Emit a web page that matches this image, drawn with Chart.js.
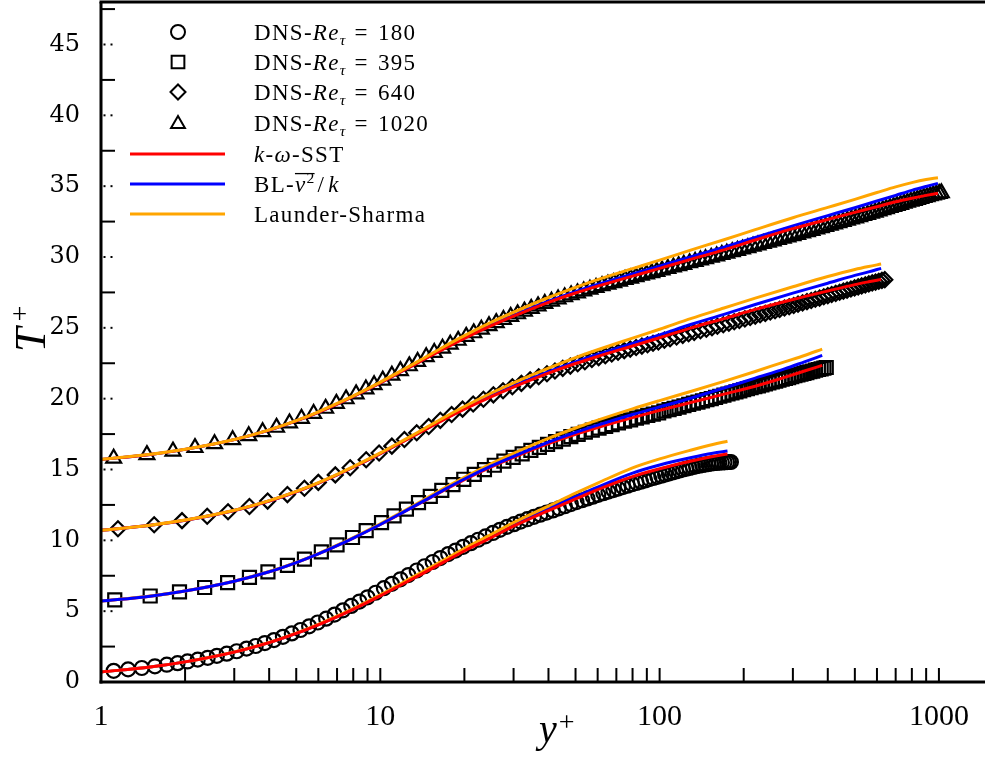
<!DOCTYPE html>
<html>
<head>
<meta charset="utf-8">
<script src="https://cdn.jsdelivr.net/npm/chart.js@4.4.1/dist/chart.umd.min.js"></script>
<style>
  html, body { margin: 0; padding: 0; background: #fff; overflow: hidden; }
  #wrap { width: 985px; height: 757px; }
</style>
</head>
<body>
<div id="wrap"><canvas id="chart" width="985" height="757"></canvas></div>
<script>
// ---- axis ticks ----
const xLabelTicks = [1, 10, 100, 1000];
const yTicks = [0, 5, 10, 15, 20, 25, 30, 35, 40, 45];
const yLongTicks = [2.5, 7.5, 12.5, 17.5, 22.5, 27.5, 32.5, 37.5, 42.5, 47.5];

// ---- legend text ----
const dnsLabels = ['180', '395', '640', '1020'];
const modelLabels = ['k-ω-SST', 'BL-v2/k', 'Launder-Sharma'];

// ---- DNS, Re_tau = 180 (no shift) ----
const re180Yp = [1.11,1.25,1.4,1.56,1.72,1.88,2.04,2.22,2.41,2.6,
  2.82,3.06,3.32,3.58,3.86,4.16,4.48,4.82,5.18,5.56,
  5.97,6.4,6.86,7.35,7.87,8.42,9.0,9.62,10.3,11.0,
  11.8,12.6,13.5,14.4,15.4,16.4,17.5,18.6,19.8,21.1,
  22.4,23.8,25.3,26.8,28.4,30.1,31.8,33.6,35.5,37.4,
  39.4,41.5,43.6,45.8,48.1,50.4,52.8,55.2,57.7,60.3,
  62.9,65.6,68.3,71.1,73.9,76.8,79.7,82.7,85.7,88.8,
  91.9,95.0,98.2,101.4,104.6,107.9,111.2,114.5,117.9,121.3,
  124.7,128.1,131.6,135.1,138.6,142.1,145.6,149.2,152.7,156.3,
  159.9,163.5,167.1,170.7,174.3,177.2,180];
const re180T = [0.79,0.89,0.99,1.11,1.22,1.33,1.45,1.58,1.71,1.85,
  2.0,2.17,2.36,2.54,2.75,2.96,3.19,3.43,3.67,3.93,
  4.2,4.47,4.76,5.06,5.37,5.68,5.98,6.3,6.62,6.93,
  7.25,7.55,7.87,8.17,8.47,8.75,9.03,9.28,9.54,9.8,
  10.04,10.28,10.52,10.74,10.95,11.14,11.32,11.49,11.66,11.81,
  11.96,12.11,12.26,12.41,12.56,12.7,12.83,12.96,13.08,13.21,
  13.33,13.44,13.55,13.65,13.76,13.86,13.96,14.05,14.14,14.23,
  14.32,14.4,14.48,14.56,14.64,14.71,14.79,14.86,14.93,15.0,
  15.06,15.11,15.17,15.22,15.27,15.31,15.35,15.38,15.42,15.44,
  15.46,15.48,15.5,15.51,15.52,15.53,15.53];

// ---- DNS, Re_tau = 395 (shifted +5) ----
const re395Yp = [1.12,1.5,1.91,2.35,2.84,3.4,3.96,4.65,5.35,6.15,
  7.0,7.95,8.9,10.1,11.2,12.4,13.7,15.1,16.6,18.2,
  19.9,21.7,23.6,25.6,27.7,29.9,32.2,34.6,37.1,39.7,
  42.4,45.2,48.1,51.1,54.2,57.4,60.7,64.1,67.6,71.2,
  74.9,78.7,82.6,86.6,90.7,94.9,99.2,103.6,108.1,112.7,
  117.4,122.2,127.1,132.1,137.2,142.4,147.7,153.1,158.6,164.2,
  169.9,175.7,181.6,187.6,193.7,199.9,206.2,212.6,219.1,225.7,
  232.4,239.2,246.1,253.1,260.2,267.4,274.7,282.1,289.6,297.2,
  304.9,312.7,320.6,328.6,336.7,344.9,353.2,361.6,370.1,378.7,
  387.4,395];
const re395T = [5.8,6.07,6.36,6.67,7.01,7.39,7.77,8.23,8.68,9.18,
  9.68,10.2,10.69,11.25,11.73,12.2,12.66,13.1,13.52,13.93,
  14.31,14.66,14.99,15.3,15.59,15.86,16.1,16.35,16.56,16.78,
  16.97,17.15,17.32,17.48,17.63,17.78,17.92,18.05,18.17,18.29,
  18.41,18.51,18.62,18.72,18.82,18.91,19.0,19.13,19.23,19.32,
  19.41,19.5,19.59,19.68,19.76,19.85,19.93,20.01,20.09,20.17,
  20.25,20.33,20.4,20.48,20.55,20.63,20.7,20.77,20.84,20.91,
  20.98,21.05,21.11,21.18,21.24,21.31,21.37,21.43,21.49,21.55,
  21.62,21.67,21.73,21.79,21.84,21.9,21.95,22.01,22.06,22.11,
  22.16,22.2];

// ---- DNS, Re_tau = 640 (shifted +10) ----
const re640Yp = [1.15,1.55,1.95,2.4,2.85,3.4,3.95,4.65,5.35,6.0,
  6.9,7.8,8.9,9.9,11,12.2,13.5,14.9,16.4,18.0,
  19.7,21.5,23.4,25.4,27.5,29.7,32.0,34.4,36.9,39.5,
  42.2,45.0,47.9,50.9,54.0,57.2,60.5,63.9,67.4,71.0,
  74.7,78.5,82.4,86.4,90.5,94.7,99.0,104,109,115,
  121,127,133,140,147,154,161,169,177,185,
  193,202,211,220,229,239,249,259,269,280,
  291,302,313,325,337,349,361,374,387,400,
  413,427,441,455,469,484,499,514,529,545,
  561,577,593,609,625,640];
const re640T = [10.82,11.1,11.39,11.7,12.02,12.39,12.77,13.23,13.68,14.09,
  14.62,15.12,15.69,16.16,16.65,17.12,17.59,18.04,18.47,18.88,
  19.26,19.62,19.96,20.27,20.56,20.84,21.08,21.33,21.55,21.76,
  21.95,22.14,22.3,22.46,22.61,22.76,22.9,23.03,23.15,23.28,
  23.39,23.5,23.61,23.71,23.81,23.91,24.0,24.13,24.23,24.35,
  24.47,24.58,24.68,24.79,24.9,25.01,25.11,25.22,25.33,25.43,
  25.52,25.63,25.73,25.83,25.92,26.02,26.12,26.21,26.3,26.4,
  26.49,26.58,26.67,26.76,26.85,26.93,27.02,27.1,27.19,27.27,
  27.35,27.43,27.51,27.59,27.66,27.74,27.82,27.89,27.96,28.03,
  28.1,28.17,28.23,28.29,28.35,28.4];

// ---- DNS, Re_tau = 1020 (shifted +15) ----
const re1020Yp = [1.11,1.46,1.81,2.17,2.55,2.96,3.38,3.79,4.25,4.73,
  5.22,5.77,6.37,6.96,7.54,8.19,8.88,9.5,10.2,11.0,
  11.8,12.7,13.6,14.6,15.6,16.7,17.8,19.0,20.3,21.6,
  23.0,24.5,26.0,27.6,29.3,31.0,32.8,34.7,36.7,38.8,
  41.0,43.3,45.7,48.2,50.8,53.5,56.3,59.2,62.2,65.3,
  68.5,71.8,75.2,78.7,82.3,86.0,89.8,93.7,97.7,102,
  107,112,117,122,128,134,140,146,153,160,
  167,174,182,190,198,207,216,225,235,245,
  255,266,277,288,300,312,325,338,351,365,
  379,393,408,423,438,454,470,486,503,520,
  537,555,573,591,610,629,648,668,688,708,
  729,750,771,793,815,837,860,883,906,930,
  954,978,1002,1020];
const re1020T = [15.79,16.04,16.29,16.54,16.81,17.09,17.38,17.66,17.97,18.28,
  18.6,18.95,19.31,19.66,19.98,20.33,20.68,20.98,21.3,21.65,
  21.97,22.31,22.62,22.95,23.25,23.55,23.83,24.11,24.39,24.64,
  24.89,25.14,25.36,25.58,25.79,25.98,26.17,26.36,26.54,26.71,
  26.87,27.03,27.18,27.32,27.46,27.59,27.72,27.84,27.96,28.07,
  28.18,28.29,28.4,28.5,28.6,28.7,28.79,28.88,28.97,29.07,
  29.18,29.28,29.38,29.47,29.58,29.68,29.78,29.87,29.97,30.07,
  30.17,30.26,30.36,30.46,30.55,30.65,30.75,30.84,30.94,31.03,
  31.13,31.22,31.32,31.41,31.5,31.59,31.69,31.78,31.87,31.97,
  32.06,32.14,32.24,32.32,32.41,32.5,32.58,32.67,32.75,32.84,
  32.92,33.0,33.08,33.16,33.24,33.32,33.4,33.48,33.55,33.63,
  33.7,33.78,33.85,33.92,33.99,34.06,34.12,34.19,34.25,34.31,
  34.37,34.43,34.48,34.52];

// ---- RANS models ----
const m180Yp = [1,1.5,2,3,4,5,6,7,8,10,12,14,17,20,25,30,40,50,60,80,100,130,155,175];
const sst180 = [0.71,1.06,1.42,2.11,2.78,3.43,4.04,4.6,5.13,6.08,6.9,7.6,8.5,9.25,10.2,11.0,12.1,12.92,13.58,14.5,15.05,15.6,15.92,16.1];
const v2k180 = [0.71,1.06,1.42,2.11,2.78,3.43,4.05,4.62,5.15,6.12,6.95,7.66,8.56,9.32,10.28,11.1,12.22,13.08,13.76,14.75,15.32,15.85,16.15,16.3];
const ls180  = [0.71,1.06,1.42,2.12,2.79,3.45,4.07,4.65,5.18,6.15,7.0,7.72,8.64,9.42,10.42,11.25,12.42,13.33,14.04,15.12,15.75,16.38,16.77,17.0];

const m395Yp = [1,1.5,2,3,4,5,6,7,8,10,12,14,17,20,25,30,40,50,60,80,100,130,170,220,280,330,382];
const sst395 = [5.71,6.06,6.42,7.11,7.78,8.43,9.04,9.62,10.16,11.12,11.95,12.66,13.56,14.28,15.18,15.85,16.82,17.48,17.96,18.66,19.17,19.74,20.32,20.88,21.5,21.95,22.35];
const v2k395 = [5.71,6.06,6.42,7.11,7.78,8.43,9.04,9.62,10.16,11.12,11.96,12.68,13.6,14.33,15.25,15.93,16.93,17.62,18.13,18.88,19.42,20.05,20.75,21.45,22.1,22.6,23.05];
const ls395  = [5.71,6.07,6.43,7.12,7.8,8.45,9.07,9.66,10.2,11.17,12.02,12.76,13.7,14.45,15.42,16.14,17.2,17.93,18.48,19.28,19.86,20.52,21.22,21.92,22.6,23.05,23.5];

const m640Yp = [1,1.5,2,3,4,5,6,7,8,10,12,14,17,20,25,30,40,50,60,80,100,130,170,220,300,400,500,560,621];
const sst640 = [10.71,11.06,11.42,12.11,12.78,13.43,14.04,14.62,15.16,16.12,16.95,17.66,18.55,19.26,20.15,20.82,21.8,22.48,22.98,23.72,24.3,25.0,25.65,26.3,27.0,27.6,28.05,28.25,28.42];
const v2k640 = [10.71,11.06,11.42,12.11,12.78,13.43,14.04,14.62,15.16,16.12,16.96,17.68,18.58,19.3,20.21,20.9,21.9,22.6,23.12,23.9,24.5,25.25,25.95,26.65,27.45,28.15,28.7,28.95,29.2];
const ls640  = [10.71,11.07,11.43,12.12,12.8,13.45,14.07,14.66,15.2,16.17,17.02,17.76,18.7,19.45,20.4,21.12,22.16,22.9,23.45,24.27,24.9,25.67,26.4,27.1,27.9,28.62,29.12,29.33,29.5];

const m1020Yp = [1,1.5,2,3,4,5,6,7,8,10,12,14,17,20,25,30,40,50,60,80,100,130,170,220,300,400,500,600,700,800,900,992];
const sst1020 = [15.71,16.06,16.42,17.11,17.78,18.43,19.04,19.62,20.16,21.12,21.95,22.66,23.55,24.26,25.15,25.82,26.8,27.46,27.94,28.65,29.2,29.85,30.5,31.2,32.0,32.65,33.15,33.55,33.9,34.15,34.35,34.5];
const v2k1020 = [15.71,16.06,16.42,17.11,17.78,18.43,19.04,19.62,20.16,21.12,21.96,22.68,23.58,24.3,25.2,25.88,26.88,27.56,28.06,28.8,29.36,30.02,30.7,31.38,32.2,32.92,33.48,33.95,34.35,34.7,34.98,35.2];
const ls1020  = [15.71,16.07,16.43,17.12,17.8,18.45,19.07,19.66,20.2,21.17,22.02,22.76,23.7,24.45,25.4,26.1,27.14,27.86,28.4,29.18,29.78,30.5,31.22,31.93,32.77,33.5,34.07,34.55,34.95,35.25,35.47,35.6];

const RED = '#ff0000', BLUE = '#0000ff', ORANGE = '#ffa500';
const SERIF = '"Liberation Serif", "Times New Roman", serif';
const WIDE_SERIF = '"DejaVu Serif", serif';

const pts = (xs, ys) => xs.map((x, i) => ({ x: x, y: ys[i] }));

const dnsStyles = [
  { style: 'circle', r: 7 },
  { style: 'rect', r: 9.2 },
  { style: 'rectRot', r: 7.5 },
  { style: 'triangle', r: 8.6 }
];

function dns(xs, ys, i) {
  return {
    data: pts(xs, ys),
    showLine: false,
    pointStyle: dnsStyles[i].style,
    pointRadius: dnsStyles[i].r,
    pointBorderWidth: 2.2,
    pointBorderColor: '#000',
    pointBackgroundColor: 'rgba(0,0,0,0)',
    order: 50
  };
}

function model(xs, ys, color, order) {
  return {
    data: pts(xs, ys),
    showLine: true,
    borderColor: color,
    borderWidth: 3,
    pointRadius: 0,
    cubicInterpolationMode: 'monotone',
    fill: false,
    order: order
  };
}

const datasets = [
  dns(re180Yp, re180T, 0),
  dns(re395Yp, re395T, 1),
  dns(re640Yp, re640T, 2),
  dns(re1020Yp, re1020T, 3),
  model(m180Yp, v2k180, BLUE, 3), model(m180Yp, ls180, ORANGE, 2), model(m180Yp, sst180, RED, 1),
  model(m395Yp, sst395, RED, 3), model(m395Yp, ls395, ORANGE, 2), model(m395Yp, v2k395, BLUE, 1),
  model(m640Yp, v2k640, BLUE, 3), model(m640Yp, sst640, RED, 2), model(m640Yp, ls640, ORANGE, 1),
  model(m1020Yp, v2k1020, BLUE, 3), model(m1020Yp, sst1020, RED, 2), model(m1020Yp, ls1020, ORANGE, 1)
];

// draw text made of styled pieces (italic, sub/superscript)
function runs(ctx, x, y, parts, size) {
  parts.forEach(p => {
    const fs = (p.sub || p.sup) ? size * 0.68 : size;
    ctx.font = (p.it ? 'italic ' : '') + fs + 'px ' + SERIF;
    const dy = p.sub ? size * 0.22 : (p.sup ? -size * 0.38 : 0);
    ctx.fillText(p.t, x, y + dy);
    x += ctx.measureText(p.t).width + (p.gap || 0);
  });
  return x;
}

function marker(ctx, style, r, x, y) {
  ctx.beginPath();
  if (style === 'circle') {
    ctx.arc(x, y, r, 0, Math.PI * 2);
  } else if (style === 'rect') {
    const s = Math.SQRT1_2 * r;
    ctx.rect(x - s, y - s, 2 * s, 2 * s);
  } else if (style === 'rectRot') {
    ctx.moveTo(x - r, y); ctx.lineTo(x, y - r); ctx.lineTo(x + r, y); ctx.lineTo(x, y + r);
    ctx.closePath();
  } else {
    ctx.moveTo(x, y - r);
    ctx.lineTo(x + 0.866 * r, y + 0.5 * r);
    ctx.lineTo(x - 0.866 * r, y + 0.5 * r);
    ctx.closePath();
  }
  ctx.stroke();
}

const noPad = s => { s.paddingLeft = 0; s.paddingRight = 0; s.paddingTop = 0; s.paddingBottom = 0; };

const framePlugin = {
  id: 'frame',
  afterDraw(chart) {
    const { ctx, chartArea: a, scales: { x, y } } = chart;
    const line = (x1, y1, x2, y2) => { ctx.beginPath(); ctx.moveTo(x1, y1); ctx.lineTo(x2, y2); ctx.stroke(); };
    ctx.save();
    ctx.strokeStyle = '#000';
    ctx.fillStyle = '#000';

    // inward ticks
    ctx.lineWidth = 2;
    yLongTicks.forEach(v => { const py = y.getPixelForValue(v); line(a.left, py, a.left + 14, py); });
    yTicks.forEach(v => {
      if (v === 0) return;
      const py = y.getPixelForValue(v);
      ctx.fillRect(a.left + 2.5, py - 1, 2, 2);
      ctx.fillRect(a.left + 9.5, py - 1, 2, 2);
    });
    for (let d = 1; d <= 1000; d *= 10) {
      for (let m = 1; m < 10; m++) {
        const v = d * m;
        if (v <= 1 || v > x.max) continue;
        const px = x.getPixelForValue(v);
        line(px, a.bottom, px, a.bottom - 14);
      }
    }

    // frame: left, bottom, top
    ctx.lineWidth = 3;
    line(a.left, a.top, a.left, a.bottom + 1.5);
    line(a.left - 1.5, a.bottom, chart.width, a.bottom);
    line(a.left - 1.5, a.top, chart.width, a.top);

    // axis titles
    ctx.textBaseline = 'alphabetic';
    ctx.textAlign = 'left';
    ctx.save();
    ctx.translate(45, 352);
    ctx.rotate(-Math.PI / 2);
    ctx.font = 'italic 44px ' + SERIF;
    ctx.fillText('T', 0, 0);
    const tw = ctx.measureText('T').width;
    ctx.font = '28px ' + SERIF;
    ctx.fillText('+', tw + 6, -16);
    ctx.restore();

    ctx.font = 'italic 40px ' + SERIF;
    ctx.fillText('y', 539, 742);
    const yw = ctx.measureText('y').width;
    ctx.font = '28px ' + SERIF;
    ctx.fillText('+', 539 + yw + 2, 731);

    // legend
    const lx = 254, size = 23;
    const rowsY = [32, 62, 92, 123, 154, 184, 214];
    ctx.letterSpacing = '1.3px';
    ctx.lineWidth = 2;
    dnsLabels.forEach((lab, i) => {
      marker(ctx, dnsStyles[i].style, i === 3 ? 8 : (i === 1 ? 9 : (i === 2 ? 7.5 : 7)), 178, rowsY[i] + (i === 3 ? 1 : 0));
      runs(ctx, lx, rowsY[i] + 8, [
        { t: 'DNS-' }, { t: 'Re', it: 1 }, { t: 'τ', it: 1, sub: 1, gap: 8 },
        { t: '=', gap: 9 }, { t: lab }
      ], size);
    });
    const colors = [RED, BLUE, ORANGE];
    ctx.lineWidth = 3;
    colors.forEach((c, i) => {
      ctx.strokeStyle = c;
      line(130, rowsY[4 + i], 225, rowsY[4 + i]);
    });
    ctx.strokeStyle = '#000';
    const by = rowsY[4] + 8;
    runs(ctx, lx, by, [{ t: 'k', it: 1 }, { t: '-' }, { t: 'ω', it: 1 }, { t: '-SST' }], size);

    const vy = rowsY[5] + 8;
    let cx = runs(ctx, lx, vy, [{ t: 'BL-' }], size);
    const vStart = cx;
    cx = runs(ctx, cx, vy, [{ t: 'v', it: 1 }, { t: '2', sup: 1 }], size);
    ctx.lineWidth = 1.3;
    line(vStart, vy - size * 0.8, cx - 1, vy - size * 0.8);
    runs(ctx, cx + 2, vy, [{ t: '/', gap: 3 }, { t: 'k', it: 1 }], size);

    runs(ctx, lx, rowsY[6] + 8, [{ t: modelLabels[2] }], size);
    ctx.letterSpacing = '0px';
    ctx.restore();
  }
};

new Chart(document.getElementById('chart').getContext('2d'), {
  type: 'scatter',
  data: { datasets: datasets },
  options: {
    responsive: false,
    animation: false,
    devicePixelRatio: 1,
    layout: { autoPadding: false, padding: { top: 2, right: 0, left: 0, bottom: 0 } },
    plugins: { legend: { display: false }, tooltip: { enabled: false } },
    scales: {
      x: {
        type: 'logarithmic',
        min: 1,
        max: 1462,
        grid: { display: false },
        border: { display: false },
        afterBuildTicks: s => { s.ticks = xLabelTicks.map(v => ({ value: v })); },
        afterFit: s => { s.height = 75; noPad(s); },
        ticks: {
          autoSkip: false, maxRotation: 0, padding: 9, color: '#000',
          font: { family: SERIF, size: 30 },
          callback: v => String(v)
        }
      },
      y: {
        min: 0,
        max: 48,
        grid: { display: false },
        border: { display: false },
        afterBuildTicks: s => { s.ticks = yTicks.map(v => ({ value: v })); },
        afterFit: s => { s.width = 101; noPad(s); },
        ticks: {
          autoSkip: false, padding: 13, color: '#000',
          font: { family: WIDE_SERIF, size: 24 },
          callback: v => String(v)
        }
      }
    }
  },
  plugins: [framePlugin]
});
</script>
</body>
</html>
